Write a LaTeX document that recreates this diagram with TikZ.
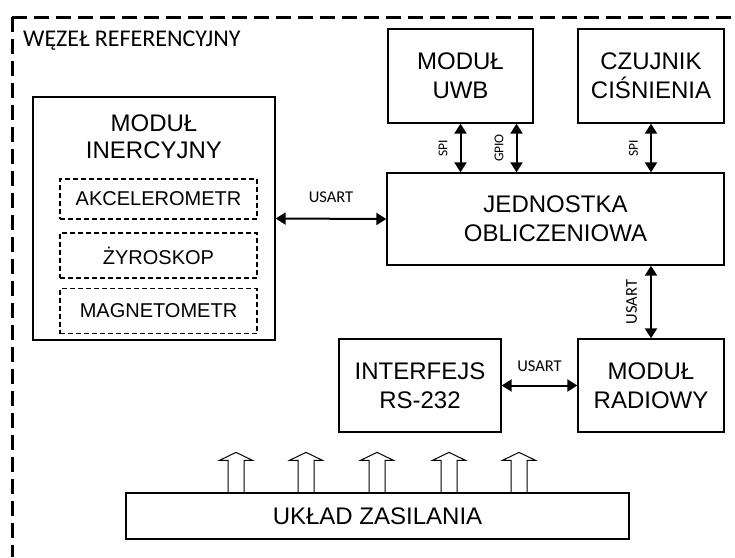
\documentclass[tikz,border=0pt]{standalone}
\usepackage{fontspec}
\setmainfont{Liberation Sans}
\newfontfamily\calibri{Carlito}
\usetikzlibrary{positioning, calc, arrows.meta}

\begin{document}
\begin{tikzpicture}[x=1pt, y=-1pt,
    blok/.style={draw, line width=1.3pt, align=center, inner sep=0pt,
      font=\fontsize{24}{29}\selectfont},
    czujnik/.style={draw, dash pattern=on 5pt off 3pt, line width=1.6pt,
      inner sep=0pt, minimum width=197pt, font=\fontsize{20}{24}\selectfont},
    lacze/.style={line width=2pt,
      {Triangle[length=10pt,width=12pt]}-{Triangle[length=10pt,width=12pt]}},
    opis/.style={font=\calibri\fontsize{16.5}{18}\selectfont, inner sep=13pt},
    opismaly/.style={font=\calibri\fontsize{13.5}{15}\selectfont, inner sep=12pt},
    zasilanie/.style={line width=1pt}]
        \useasboundingbox (0,0) rectangle (735,557);

        % granica wezla
        \draw[line width=3pt, dash pattern=on 15pt off 7pt] (12,17) -- (735,17);
        \draw[line width=3pt, dash pattern=on 15pt off 7pt] (12,17) -- (12,557);
        \node[anchor=base west, inner sep=0pt, font=\calibri\fontsize{24}{28}\selectfont]
          (wezel) at (23,46.5) {WĘZEŁ REFERENCYJNY};

        % modul inercyjny
        \node[blok, minimum width=242pt, minimum height=243pt] (inercja) at (154,218.5) {};
        \node[align=center, inner sep=0pt, font=\fontsize{24}{27}\selectfont]
          (inercjaopis) at (154,137) {MODUŁ\\INERCYJNY};
        \node[czujnik, minimum height=40pt] (akcel) at (158.5,199) {AKCELEROMETR};
        \node[czujnik, minimum height=45pt] (zyro) at (158.5,255.5) {ŻYROSKOP};
        \node[czujnik, minimum height=45pt] (magnet) at (158.5,311) {MAGNETOMETR};

        % bloki
        \node[blok, minimum width=145pt, minimum height=94pt] (uwb) at (460.5,76) {MODUŁ\\UWB};
        \node[blok, minimum width=146pt, minimum height=94pt] (cisnienie) at (651,76) {CZUJNIK\\CIŚNIENIA};
        \node[blok, minimum width=337pt, minimum height=92pt] (jednostka) at (555.5,219) {JEDNOSTKA\\OBLICZENIOWA};
        \node[blok, minimum width=162pt, minimum height=93pt] (rs) at (420,385.5) {INTERFEJS\\RS-232};
        \node[blok, minimum width=146pt, minimum height=93pt] (radio) at (651,385.5) {MODUŁ\\RADIOWY};
        \node[blok, minimum width=503pt, minimum height=46pt] (zasilanie) at (377.5,516) {UKŁAD ZASILANIA};

        % polaczenia
        \coordinate (gpio) at ([xshift=56pt]uwb.south);
        \draw[lacze] (inercja.east) -- (jednostka.west)
          node[midway, anchor=south, opis, inner sep=15pt] {USART};
        \draw[lacze] (uwb.south) -- (uwb.south |- jednostka.north)
          node[midway, rotate=90, anchor=south, opismaly] {SPI};
        \draw[lacze] (gpio) -- (gpio |- jednostka.north)
          node[midway, rotate=90, anchor=south, opismaly] {GPIO};
        \draw[lacze] (cisnienie.south) -- (cisnienie.south |- jednostka.north)
          node[midway, rotate=90, anchor=south, opismaly] {SPI};
        \draw[lacze] (radio.north |- jednostka.south) -- (radio.north)
          node[midway, rotate=90, anchor=south, opis] {USART};
        \draw[lacze] (rs.east) -- (radio.west)
          node[midway, anchor=south, opis] {USART};

        % zasilanie
        \foreach \x in {236,306,377,449,519}
          \draw[zasilanie] (zasilanie.north -| \x-8,0) -- ++(0,-32) -- ++(-8.5,0)
            -- ++(16.5,-8) -- ++(16.5,8) -- ++(-8.5,0) -- ++(0,32);
      \end{tikzpicture}
\end{document}
